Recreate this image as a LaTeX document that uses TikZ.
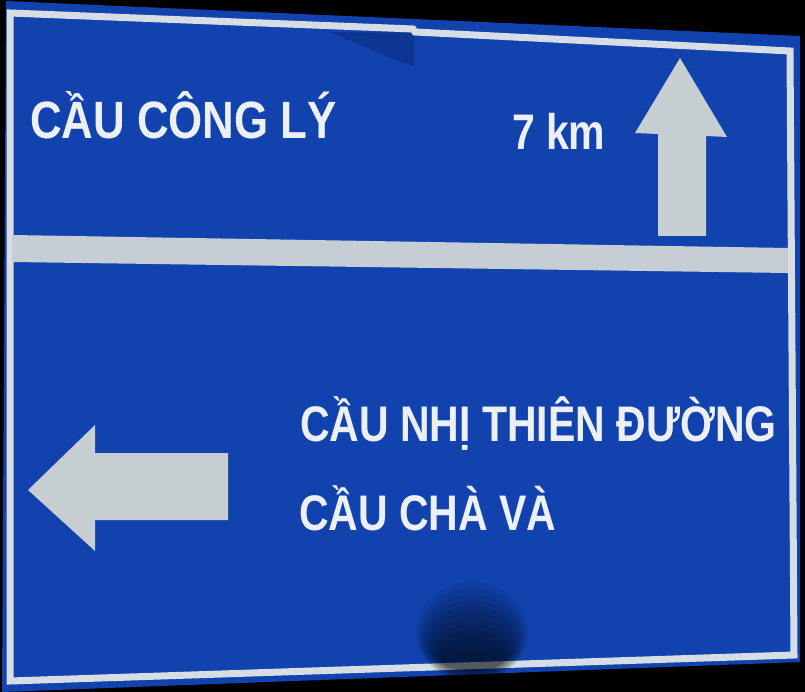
\documentclass[tikz,border=0pt]{standalone}
\usepackage{fontspec}
\newfontfamily\signfont{Liberation Sans}[FakeStretch=0.82]
\definecolor{signblue}{RGB}{17,66,174}
\definecolor{signdark}{RGB}{10,44,120}
\definecolor{rimwhite}{RGB}{214,222,228}
\definecolor{bandgray}{RGB}{196,206,212}
\definecolor{arrowgray}{RGB}{198,206,210}
\definecolor{txtwhite}{RGB}{236,240,244}
\begin{document}
\begin{tikzpicture}[x=1pt,y=-1pt,
  lbl/.style={anchor=base west, inner sep=0pt, outer sep=0pt, text=txtwhite,
    font=\signfont\bfseries\fontsize{50}{58}\selectfont},
  arrowshape/.style={fill=arrowgray},
  smudge/.style={fill=black, opacity=0.07}]
\useasboundingbox (0,0) rectangle (805,692);
\fill[black] (0,0) rectangle (805,692);
% sign plate
\fill[signblue] (6,1) -- (800,36) -- (800,662) -- (2,692) -- cycle;
% shadow under the upper panel edge
\fill[signdark, opacity=0.5] (330,32) -- (414,33) -- (414,66) -- (400,62) -- cycle;
% white rim
\draw[rimwhite, line width=7pt, line join=miter]
  (10,13) -- (413,29) -- (415,32) -- (790,51) -- (794,655) -- (10,681) -- cycle;
% smudge at the bottom (soft, built from many faint ellipses)
\foreach \k in {0,...,11} {
  \fill[smudge] (472,{632+2.5*\k}) ellipse [x radius={56-2.2*\k}, y radius={50-3.6*\k}];
}
% divider band
\fill[bandgray] (12,235) -- (788,248) -- (788,273) -- (12,262) -- cycle;
% up arrow
\fill[arrowshape] (680,58) -- (727,137) -- (706,136) -- (706,236) -- (658,236) -- (658,134) -- (635,133) -- cycle;
% left arrow
\fill[arrowshape] (28,490) -- (95,425) -- (95,453) -- (228,453) -- (228,520) -- (95,520) -- (95,551) -- cycle;
% texts
\node[lbl] (t1) at (30,139) {\scalebox{1.07}[1.05]{CẦU CÔNG LÝ}};
\node[lbl] (t2) at (512,150) {7 km};
\node[lbl] (t3) at (300,441) {CẦU NHỊ THIÊN ĐƯỜNG};
\node[lbl] (t4) at (299,530) {CẦU CHÀ VÀ};
\end{tikzpicture}
\end{document}
